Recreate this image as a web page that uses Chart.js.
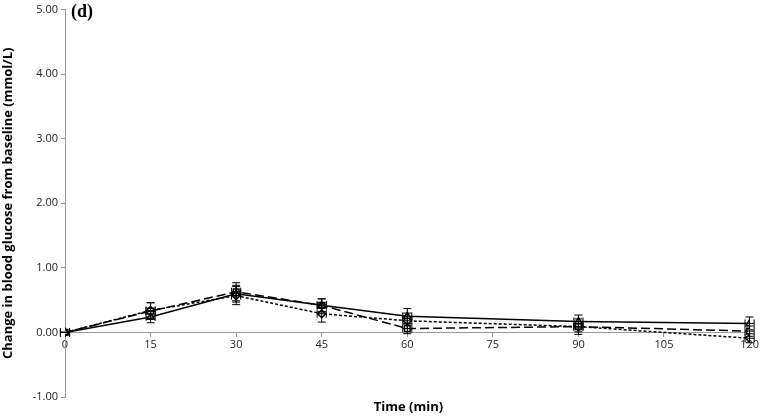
<!DOCTYPE html>
<html>
<head>
<meta charset="utf-8">
<script src="https://cdn.jsdelivr.net/npm/chart.js@4"></script>
<style>
    body { margin: 0; background: #fff; }
    #wrap { position: relative; width: 761px; height: 417px; }
    #panel { position: absolute; left: 71px; top: 1px; font: bold 18px "Liberation Serif", serif; color: #000; }
    #xtitle { position: absolute; left: 0; width: 817px; top: 397px; text-align: center; font: bold 13px "Open Sans", sans-serif; color: #000; }
</style>
</head>
<body>
<div id="wrap">
    <canvas id="glucoseChart" width="761" height="417"></canvas>
    <div id="panel">(d)</div>
    <div id="xtitle">Time (min)</div>
</div>
<script>
// Data
const times = [0, 15, 30, 45, 60, 90, 120];
const solidVals = [0, 0.24, 0.60, 0.42, 0.25, 0.17, 0.14];
const longDashVals = [0, 0.33, 0.63, 0.42, 0.06, 0.09, 0.02];
const shortDashVals = [0, 0.34, 0.57, 0.29, 0.18, 0.09, -0.09];

// Standard errors (mmol/L) and time error (min)
const solidErr = [0, 0.09, 0.13, 0.10, 0.12, 0.10, 0.10];
const longDashErr = [0, 0.13, 0.14, 0.10, 0.08, 0.08, 0.08];
const shortDashErr = [0, 0.12, 0.14, 0.13, 0.12, 0.12, 0.07];
const timeErr = [0.8, 0.8, 0.8, 0.8, 0.8, 0.8, 0.8];

const yTicks = [-1, 0, 1, 2, 3, 4, 5];
const xTicks = [0, 15, 30, 45, 60, 75, 90, 105, 120];

function toPoints(vals) {
    return times.map((t, i) => ({ x: t, y: vals[i] }));
}

// Draw the error bars using the chart scales
const errorBars = {
    id: 'errorBars',
    afterDatasetsDraw(chart) {
        const ctx = chart.ctx;
        const xs = chart.scales.x;
        const ys = chart.scales.y;
        chart.data.datasets.forEach(ds => {
            ctx.save();
            ctx.strokeStyle = '#000';
            ctx.lineWidth = 1;
            ds.data.forEach((p, i) => {
                const e = ds.errors[i];
                const px = xs.getPixelForValue(p.x);
                const py = ys.getPixelForValue(p.y);
                const top = ys.getPixelForValue(p.y + e);
                const bot = ys.getPixelForValue(p.y - e);
                const left = xs.getPixelForValue(p.x - timeErr[i]);
                const right = xs.getPixelForValue(p.x + timeErr[i]);
                ctx.beginPath();
                ctx.moveTo(px, top); ctx.lineTo(px, bot);
                ctx.moveTo(px - 4, top); ctx.lineTo(px + 4, top);
                ctx.moveTo(px - 4, bot); ctx.lineTo(px + 4, bot);
                ctx.moveTo(left, py); ctx.lineTo(right, py);
                ctx.moveTo(left, py - 4); ctx.lineTo(left, py + 4);
                ctx.moveTo(right, py - 4); ctx.lineTo(right, py + 4);
                ctx.stroke();
            });
            ctx.restore();
        });
    }
};

const ctx = document.getElementById('glucoseChart').getContext('2d');
const glucoseChart = new Chart(ctx, {
    type: 'line',
    data: {
        datasets: [{
            data: toPoints(solidVals),
            errors: solidErr,
            borderColor: '#000',
            borderWidth: 1.5,
            pointStyle: 'triangle',
            pointRadius: 4,
            pointBackgroundColor: '#fff',
            pointBorderColor: '#000',
            tension: 0
        }, {
            data: toPoints(longDashVals),
            errors: longDashErr,
            borderColor: '#000',
            borderWidth: 1.5,
            borderDash: [9, 4],
            pointStyle: 'rect',
            pointRadius: 4,
            pointBackgroundColor: '#fff',
            pointBorderColor: '#000',
            tension: 0
        }, {
            data: toPoints(shortDashVals),
            errors: shortDashErr,
            borderColor: '#000',
            borderWidth: 1.5,
            borderDash: [3, 2],
            pointStyle: 'rectRot',
            pointRadius: 4,
            pointBackgroundColor: '#fff',
            pointBorderColor: '#000',
            tension: 0
        }]
    },
    options: {
        responsive: false,
        animation: false,
        layout: { padding: { left: 0, right: 9, top: 0, bottom: 20 } },
        plugins: {
            legend: { display: false },
            tooltip: { enabled: false }
        },
        scales: {
            x: {
                type: 'linear',
                position: { y: 0 },
                min: 0,
                max: 120,
                afterBuildTicks: s => { s.ticks = xTicks.map(v => ({ value: v })); },
                grid: { drawOnChartArea: false, drawTicks: true, tickLength: 4, color: '#999' },
                border: { color: '#999' },
                ticks: { color: '#222', font: { family: 'Open Sans', size: 11 }, padding: 2, maxRotation: 0 }
            },
            y: {
                min: -1,
                max: 5,
                afterBuildTicks: s => { s.ticks = yTicks.map(v => ({ value: v })); },
                afterFit: s => { s.width = 65; },
                grid: { drawOnChartArea: false, drawTicks: true, tickLength: 4, color: '#999' },
                border: { color: '#999' },
                ticks: {
                    color: '#222',
                    font: { family: 'Open Sans', size: 11 },
                    padding: 3,
                    callback: v => v.toFixed(2)
                },
                title: {
                    display: true,
                    text: 'Change in blood glucose from baseline (mmol/L)',
                    color: '#000',
                    font: { family: 'Open Sans', size: 13, weight: 'bold' },
                    padding: { top: 0, bottom: 0 }
                }
            }
        }
    },
    plugins: [errorBars]
});
</script>
</body>
</html>
